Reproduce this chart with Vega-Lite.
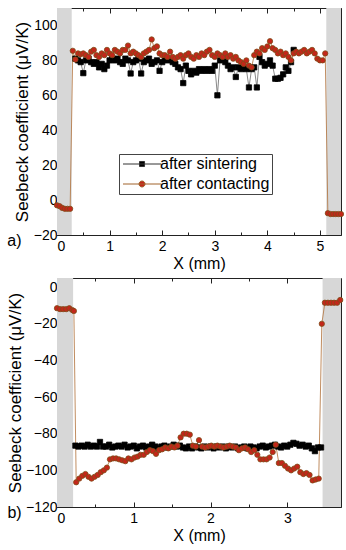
{
  "$schema": "https://vega.github.io/schema/vega-lite/v6.json",
  "background": "white",
  "padding": {"left": 5, "top": 7, "right": 8, "bottom": 5},
  "config": {
    "font": "Liberation Sans",
    "view": {"stroke": "#222", "strokeWidth": 1},
    "axis": {"labelFont": "Liberation Sans", "labelFontSize": 14, "labelColor": "#000", "titleFont": "Liberation Sans", "titleFontSize": 16, "titleFontWeight": "normal", "titleColor": "#000", "tickColor": "#222", "domain": false, "grid": false},
    "title": {"font": "Liberation Sans", "fontSize": 16, "fontWeight": "normal", "color": "#000"}
  },
  "datasets": {
    "bandsTop": [{"x0": 0, "x1": 0.28}, {"x0": 5.12, "x1": 5.4}],
    "bandsBottom": [{"x0": 0, "x1": 0.21}, {"x0": 3.46, "x1": 3.7}],
    "top": [
      {"s":"after sintering","x":0.35,"y":81},{"s":"after sintering","x":0.40,"y":80},{"s":"after sintering","x":0.45,"y":79},{"s":"after sintering","x":0.50,"y":72.7},{"s":"after sintering","x":0.55,"y":80},{"s":"after sintering","x":0.60,"y":81},{"s":"after sintering","x":0.65,"y":79},{"s":"after sintering","x":0.70,"y":78},{"s":"after sintering","x":0.75,"y":79},{"s":"after sintering","x":0.80,"y":76},{"s":"after sintering","x":0.85,"y":78},{"s":"after sintering","x":0.90,"y":75},{"s":"after sintering","x":0.95,"y":77},{"s":"after sintering","x":1.00,"y":80},{"s":"after sintering","x":1.05,"y":81},{"s":"after sintering","x":1.10,"y":80},{"s":"after sintering","x":1.15,"y":81},{"s":"after sintering","x":1.20,"y":79},{"s":"after sintering","x":1.25,"y":78},{"s":"after sintering","x":1.30,"y":81},{"s":"after sintering","x":1.35,"y":80},{"s":"after sintering","x":1.40,"y":72.5},{"s":"after sintering","x":1.45,"y":79},{"s":"after sintering","x":1.50,"y":80},{"s":"after sintering","x":1.55,"y":81},{"s":"after sintering","x":1.60,"y":72.5},{"s":"after sintering","x":1.65,"y":79},{"s":"after sintering","x":1.70,"y":80},{"s":"after sintering","x":1.75,"y":81},{"s":"after sintering","x":1.80,"y":78},{"s":"after sintering","x":1.85,"y":79},{"s":"after sintering","x":1.90,"y":80},{"s":"after sintering","x":1.95,"y":74},{"s":"after sintering","x":2.00,"y":79},{"s":"after sintering","x":2.05,"y":80},{"s":"after sintering","x":2.10,"y":81},{"s":"after sintering","x":2.15,"y":80},{"s":"after sintering","x":2.20,"y":79},{"s":"after sintering","x":2.25,"y":78},{"s":"after sintering","x":2.30,"y":76},{"s":"after sintering","x":2.35,"y":75},{"s":"after sintering","x":2.40,"y":67},{"s":"after sintering","x":2.45,"y":77},{"s":"after sintering","x":2.50,"y":74},{"s":"after sintering","x":2.55,"y":72},{"s":"after sintering","x":2.60,"y":74},{"s":"after sintering","x":2.65,"y":73},{"s":"after sintering","x":2.70,"y":75},{"s":"after sintering","x":2.75,"y":74},{"s":"after sintering","x":2.80,"y":75},{"s":"after sintering","x":2.85,"y":74},{"s":"after sintering","x":2.90,"y":75},{"s":"after sintering","x":2.95,"y":74},{"s":"after sintering","x":3.00,"y":77},{"s":"after sintering","x":3.05,"y":60},{"s":"after sintering","x":3.10,"y":80},{"s":"after sintering","x":3.15,"y":81},{"s":"after sintering","x":3.20,"y":79},{"s":"after sintering","x":3.25,"y":77},{"s":"after sintering","x":3.30,"y":75},{"s":"after sintering","x":3.35,"y":76},{"s":"after sintering","x":3.40,"y":70.5},{"s":"after sintering","x":3.45,"y":76},{"s":"after sintering","x":3.50,"y":75},{"s":"after sintering","x":3.55,"y":76},{"s":"after sintering","x":3.60,"y":75},{"s":"after sintering","x":3.65,"y":64.5},{"s":"after sintering","x":3.70,"y":75},{"s":"after sintering","x":3.75,"y":76},{"s":"after sintering","x":3.80,"y":64.5},{"s":"after sintering","x":3.85,"y":82},{"s":"after sintering","x":3.90,"y":79},{"s":"after sintering","x":3.95,"y":77},{"s":"after sintering","x":4.00,"y":78},{"s":"after sintering","x":4.05,"y":80},{"s":"after sintering","x":4.10,"y":77},{"s":"after sintering","x":4.15,"y":69.5},{"s":"after sintering","x":4.20,"y":69.5},{"s":"after sintering","x":4.25,"y":70},{"s":"after sintering","x":4.30,"y":72},{"s":"after sintering","x":4.35,"y":76},{"s":"after sintering","x":4.40,"y":74},{"s":"after sintering","x":4.45,"y":79},{"s":"after sintering","x":4.50,"y":86},
      {"s":"after contacting","x":0.00,"y":-3},{"s":"after contacting","x":0.05,"y":-3.5},{"s":"after contacting","x":0.10,"y":-4.5},{"s":"after contacting","x":0.15,"y":-5},{"s":"after contacting","x":0.20,"y":-5},{"s":"after contacting","x":0.25,"y":-5},{"s":"after contacting","x":0.30,"y":85.5},{"s":"after contacting","x":0.35,"y":80.5},{"s":"after contacting","x":0.40,"y":84},{"s":"after contacting","x":0.45,"y":83.5},{"s":"after contacting","x":0.50,"y":84},{"s":"after contacting","x":0.55,"y":83},{"s":"after contacting","x":0.60,"y":82},{"s":"after contacting","x":0.65,"y":85},{"s":"after contacting","x":0.70,"y":86},{"s":"after contacting","x":0.75,"y":83},{"s":"after contacting","x":0.80,"y":82},{"s":"after contacting","x":0.85,"y":84},{"s":"after contacting","x":0.90,"y":83},{"s":"after contacting","x":0.95,"y":86},{"s":"after contacting","x":1.00,"y":84},{"s":"after contacting","x":1.05,"y":83},{"s":"after contacting","x":1.10,"y":86},{"s":"after contacting","x":1.15,"y":85},{"s":"after contacting","x":1.20,"y":84},{"s":"after contacting","x":1.25,"y":86},{"s":"after contacting","x":1.30,"y":86},{"s":"after contacting","x":1.35,"y":88.5},{"s":"after contacting","x":1.40,"y":84},{"s":"after contacting","x":1.45,"y":85},{"s":"after contacting","x":1.50,"y":84},{"s":"after contacting","x":1.55,"y":83},{"s":"after contacting","x":1.60,"y":82},{"s":"after contacting","x":1.65,"y":84},{"s":"after contacting","x":1.70,"y":85},{"s":"after contacting","x":1.75,"y":86},{"s":"after contacting","x":1.80,"y":92},{"s":"after contacting","x":1.85,"y":87},{"s":"after contacting","x":1.90,"y":88},{"s":"after contacting","x":1.95,"y":84},{"s":"after contacting","x":2.00,"y":83},{"s":"after contacting","x":2.05,"y":83},{"s":"after contacting","x":2.10,"y":82},{"s":"after contacting","x":2.15,"y":85},{"s":"after contacting","x":2.20,"y":82},{"s":"after contacting","x":2.25,"y":81},{"s":"after contacting","x":2.30,"y":82},{"s":"after contacting","x":2.35,"y":83},{"s":"after contacting","x":2.40,"y":81},{"s":"after contacting","x":2.45,"y":83},{"s":"after contacting","x":2.50,"y":84},{"s":"after contacting","x":2.55,"y":82},{"s":"after contacting","x":2.60,"y":81},{"s":"after contacting","x":2.65,"y":83},{"s":"after contacting","x":2.70,"y":82},{"s":"after contacting","x":2.75,"y":84},{"s":"after contacting","x":2.80,"y":83},{"s":"after contacting","x":2.85,"y":85},{"s":"after contacting","x":2.90,"y":86},{"s":"after contacting","x":2.95,"y":83},{"s":"after contacting","x":3.00,"y":82},{"s":"after contacting","x":3.05,"y":84},{"s":"after contacting","x":3.10,"y":83},{"s":"after contacting","x":3.15,"y":82},{"s":"after contacting","x":3.20,"y":84},{"s":"after contacting","x":3.25,"y":82},{"s":"after contacting","x":3.30,"y":83},{"s":"after contacting","x":3.35,"y":81},{"s":"after contacting","x":3.40,"y":82},{"s":"after contacting","x":3.45,"y":80},{"s":"after contacting","x":3.50,"y":79},{"s":"after contacting","x":3.55,"y":78},{"s":"after contacting","x":3.60,"y":80},{"s":"after contacting","x":3.65,"y":77},{"s":"after contacting","x":3.70,"y":76},{"s":"after contacting","x":3.75,"y":83},{"s":"after contacting","x":3.80,"y":85},{"s":"after contacting","x":3.85,"y":84},{"s":"after contacting","x":3.90,"y":87},{"s":"after contacting","x":3.95,"y":86},{"s":"after contacting","x":4.00,"y":88},{"s":"after contacting","x":4.05,"y":91},{"s":"after contacting","x":4.10,"y":87},{"s":"after contacting","x":4.15,"y":86},{"s":"after contacting","x":4.20,"y":84},{"s":"after contacting","x":4.25,"y":85},{"s":"after contacting","x":4.30,"y":83},{"s":"after contacting","x":4.35,"y":84},{"s":"after contacting","x":4.40,"y":82},{"s":"after contacting","x":4.45,"y":80},{"s":"after contacting","x":4.50,"y":84},{"s":"after contacting","x":4.55,"y":85},{"s":"after contacting","x":4.60,"y":84},{"s":"after contacting","x":4.65,"y":85},{"s":"after contacting","x":4.70,"y":86},{"s":"after contacting","x":4.75,"y":84},{"s":"after contacting","x":4.80,"y":85},{"s":"after contacting","x":4.85,"y":86},{"s":"after contacting","x":4.90,"y":84},{"s":"after contacting","x":4.95,"y":81},{"s":"after contacting","x":5.00,"y":80},{"s":"after contacting","x":5.05,"y":80},{"s":"after contacting","x":5.10,"y":84},{"s":"after contacting","x":5.15,"y":-7.5},{"s":"after contacting","x":5.20,"y":-8},{"s":"after contacting","x":5.25,"y":-8},{"s":"after contacting","x":5.30,"y":-8},{"s":"after contacting","x":5.35,"y":-8},{"s":"after contacting","x":5.40,"y":-8}
    ],
    "bottom": [
      {"s":"after sintering","x":0.24,"y":-86.5},{"s":"after sintering","x":0.28,"y":-87},{"s":"after sintering","x":0.32,"y":-86.5},{"s":"after sintering","x":0.36,"y":-87},{"s":"after sintering","x":0.40,"y":-86},{"s":"after sintering","x":0.44,"y":-87},{"s":"after sintering","x":0.48,"y":-86.5},{"s":"after sintering","x":0.52,"y":-87},{"s":"after sintering","x":0.56,"y":-84.5},{"s":"after sintering","x":0.60,"y":-87},{"s":"after sintering","x":0.64,"y":-87},{"s":"after sintering","x":0.68,"y":-86},{"s":"after sintering","x":0.72,"y":-87.5},{"s":"after sintering","x":0.76,"y":-87},{"s":"after sintering","x":0.80,"y":-86.5},{"s":"after sintering","x":0.84,"y":-87},{"s":"after sintering","x":0.88,"y":-86},{"s":"after sintering","x":0.92,"y":-87.5},{"s":"after sintering","x":0.96,"y":-87},{"s":"after sintering","x":1.00,"y":-86.5},{"s":"after sintering","x":1.04,"y":-88},{"s":"after sintering","x":1.08,"y":-87},{"s":"after sintering","x":1.12,"y":-86.5},{"s":"after sintering","x":1.16,"y":-87.5},{"s":"after sintering","x":1.20,"y":-87},{"s":"after sintering","x":1.24,"y":-86},{"s":"after sintering","x":1.28,"y":-87},{"s":"after sintering","x":1.32,"y":-88},{"s":"after sintering","x":1.36,"y":-87},{"s":"after sintering","x":1.40,"y":-86.5},{"s":"after sintering","x":1.44,"y":-87.5},{"s":"after sintering","x":1.48,"y":-87},{"s":"after sintering","x":1.52,"y":-86},{"s":"after sintering","x":1.56,"y":-87},{"s":"after sintering","x":1.60,"y":-86.5},{"s":"after sintering","x":1.64,"y":-87.5},{"s":"after sintering","x":1.68,"y":-88},{"s":"after sintering","x":1.72,"y":-87},{"s":"after sintering","x":1.76,"y":-88},{"s":"after sintering","x":1.80,"y":-87},{"s":"after sintering","x":1.84,"y":-87.5},{"s":"after sintering","x":1.88,"y":-88},{"s":"after sintering","x":1.92,"y":-87},{"s":"after sintering","x":1.96,"y":-87.5},{"s":"after sintering","x":2.00,"y":-87},{"s":"after sintering","x":2.04,"y":-88},{"s":"after sintering","x":2.08,"y":-87},{"s":"after sintering","x":2.12,"y":-87.5},{"s":"after sintering","x":2.16,"y":-87},{"s":"after sintering","x":2.20,"y":-88},{"s":"after sintering","x":2.24,"y":-87},{"s":"after sintering","x":2.28,"y":-87.5},{"s":"after sintering","x":2.32,"y":-87},{"s":"after sintering","x":2.36,"y":-88},{"s":"after sintering","x":2.40,"y":-87.5},{"s":"after sintering","x":2.44,"y":-87},{"s":"after sintering","x":2.48,"y":-88},{"s":"after sintering","x":2.52,"y":-87},{"s":"after sintering","x":2.56,"y":-87.5},{"s":"after sintering","x":2.60,"y":-88},{"s":"after sintering","x":2.64,"y":-87},{"s":"after sintering","x":2.68,"y":-86.5},{"s":"after sintering","x":2.72,"y":-87.5},{"s":"after sintering","x":2.76,"y":-87},{"s":"after sintering","x":2.80,"y":-86.5},{"s":"after sintering","x":2.84,"y":-86},{"s":"after sintering","x":2.88,"y":-87},{"s":"after sintering","x":2.92,"y":-87.5},{"s":"after sintering","x":2.96,"y":-86.5},{"s":"after sintering","x":3.00,"y":-87},{"s":"after sintering","x":3.04,"y":-86},{"s":"after sintering","x":3.08,"y":-85},{"s":"after sintering","x":3.12,"y":-85.5},{"s":"after sintering","x":3.16,"y":-86.5},{"s":"after sintering","x":3.20,"y":-86},{"s":"after sintering","x":3.24,"y":-87},{"s":"after sintering","x":3.28,"y":-86.5},{"s":"after sintering","x":3.32,"y":-88},{"s":"after sintering","x":3.36,"y":-89.5},{"s":"after sintering","x":3.40,"y":-87.5},{"s":"after sintering","x":3.44,"y":-87.5},
      {"s":"after contacting","x":0.00,"y":-11.5},{"s":"after contacting","x":0.04,"y":-12},{"s":"after contacting","x":0.08,"y":-12},{"s":"after contacting","x":0.12,"y":-12},{"s":"after contacting","x":0.16,"y":-11.5},{"s":"after contacting","x":0.20,"y":-12.5},{"s":"after contacting","x":0.22,"y":-13},{"s":"after contacting","x":0.25,"y":-106.5},{"s":"after contacting","x":0.29,"y":-104.5},{"s":"after contacting","x":0.33,"y":-103},{"s":"after contacting","x":0.37,"y":-102},{"s":"after contacting","x":0.41,"y":-103.5},{"s":"after contacting","x":0.45,"y":-104.5},{"s":"after contacting","x":0.49,"y":-103.5},{"s":"after contacting","x":0.53,"y":-102.5},{"s":"after contacting","x":0.57,"y":-101},{"s":"after contacting","x":0.61,"y":-100},{"s":"after contacting","x":0.65,"y":-98.5},{"s":"after contacting","x":0.69,"y":-94},{"s":"after contacting","x":0.73,"y":-93.5},{"s":"after contacting","x":0.77,"y":-93.5},{"s":"after contacting","x":0.81,"y":-94},{"s":"after contacting","x":0.85,"y":-94.5},{"s":"after contacting","x":0.89,"y":-95},{"s":"after contacting","x":0.93,"y":-93.5},{"s":"after contacting","x":0.97,"y":-94},{"s":"after contacting","x":1.01,"y":-93},{"s":"after contacting","x":1.05,"y":-92.5},{"s":"after contacting","x":1.09,"y":-91.5},{"s":"after contacting","x":1.13,"y":-91.5},{"s":"after contacting","x":1.17,"y":-90},{"s":"after contacting","x":1.21,"y":-89},{"s":"after contacting","x":1.25,"y":-89.5},{"s":"after contacting","x":1.29,"y":-91},{"s":"after contacting","x":1.33,"y":-89},{"s":"after contacting","x":1.37,"y":-88.5},{"s":"after contacting","x":1.41,"y":-87.5},{"s":"after contacting","x":1.45,"y":-88},{"s":"after contacting","x":1.49,"y":-87},{"s":"after contacting","x":1.53,"y":-87.5},{"s":"after contacting","x":1.57,"y":-86.5},{"s":"after contacting","x":1.61,"y":-82},{"s":"after contacting","x":1.65,"y":-80},{"s":"after contacting","x":1.69,"y":-80},{"s":"after contacting","x":1.73,"y":-80.5},{"s":"after contacting","x":1.77,"y":-86.5},{"s":"after contacting","x":1.81,"y":-87},{"s":"after contacting","x":1.85,"y":-83.5},{"s":"after contacting","x":1.89,"y":-87},{"s":"after contacting","x":1.93,"y":-87.5},{"s":"after contacting","x":1.97,"y":-87},{"s":"after contacting","x":2.01,"y":-86.5},{"s":"after contacting","x":2.05,"y":-87},{"s":"after contacting","x":2.09,"y":-86.5},{"s":"after contacting","x":2.13,"y":-87},{"s":"after contacting","x":2.17,"y":-87.5},{"s":"after contacting","x":2.21,"y":-87},{"s":"after contacting","x":2.25,"y":-86.5},{"s":"after contacting","x":2.29,"y":-87},{"s":"after contacting","x":2.33,"y":-87.5},{"s":"after contacting","x":2.37,"y":-89},{"s":"after contacting","x":2.41,"y":-88},{"s":"after contacting","x":2.45,"y":-87.5},{"s":"after contacting","x":2.49,"y":-88.5},{"s":"after contacting","x":2.53,"y":-90},{"s":"after contacting","x":2.57,"y":-89},{"s":"after contacting","x":2.61,"y":-91.5},{"s":"after contacting","x":2.65,"y":-94},{"s":"after contacting","x":2.69,"y":-94},{"s":"after contacting","x":2.73,"y":-94},{"s":"after contacting","x":2.77,"y":-93},{"s":"after contacting","x":2.81,"y":-90},{"s":"after contacting","x":2.85,"y":-86},{"s":"after contacting","x":2.89,"y":-96},{"s":"after contacting","x":2.93,"y":-96},{"s":"after contacting","x":2.97,"y":-97.5},{"s":"after contacting","x":3.01,"y":-99},{"s":"after contacting","x":3.05,"y":-100},{"s":"after contacting","x":3.09,"y":-99},{"s":"after contacting","x":3.13,"y":-98},{"s":"after contacting","x":3.17,"y":-101},{"s":"after contacting","x":3.21,"y":-102},{"s":"after contacting","x":3.25,"y":-101.5},{"s":"after contacting","x":3.29,"y":-102.5},{"s":"after contacting","x":3.33,"y":-105.5},{"s":"after contacting","x":3.37,"y":-105},{"s":"after contacting","x":3.41,"y":-104.5},{"s":"after contacting","x":3.45,"y":-20},{"s":"after contacting","x":3.49,"y":-8.5},{"s":"after contacting","x":3.53,"y":-8.5},{"s":"after contacting","x":3.57,"y":-8.5},{"s":"after contacting","x":3.61,"y":-8.5},{"s":"after contacting","x":3.65,"y":-8.5},{"s":"after contacting","x":3.69,"y":-7}
    ]
  },
  "vconcat": [
    {
      "width": 284,
      "height": 227,
      "title": {"text": "a)", "orient": "bottom", "anchor": "start", "frame": "bounds", "offset": -38, "dx": -6},
      "resolve": {"axis": {"x": "independent", "y": "independent"}, "scale": {"shape": "independent", "fill": "independent", "stroke": "independent"}},
      "layer": [
        {
          "data": {"name": "bandsTop"},
          "mark": {"type": "rect", "color": "#d7d7d7"},
          "encoding": {
            "x": {"field": "x0", "type": "quantitative", "scale": {"domain": [0, 5.4], "nice": false}, "axis": {"orient": "bottom", "values": [0, 1, 2, 3, 4, 5], "tickSize": -5, "labelPadding": 9, "title": "X (mm)", "titlePadding": 2}},
            "x2": {"field": "x1"},
            "y": {"datum": -20, "type": "quantitative", "scale": {"domain": [-20, 110], "nice": false}, "axis": {"orient": "left", "values": [-10, 10, 30, 50, 70, 90, 110], "tickSize": -3, "labels": false, "title": null}},
            "y2": {"datum": 110}
          }
        },
        {
          "data": {"name": "top"},
          "transform": [{"filter": "datum.s === 'after sintering'"}],
          "mark": {"type": "line", "color": "#555", "strokeWidth": 0.7},
          "encoding": {
            "x": {"field": "x", "type": "quantitative", "scale": {"domain": [0, 5.4], "nice": false}, "axis": {"orient": "top", "values": [0, 1, 2, 3, 4, 5], "tickSize": -5, "labels": false, "title": null}},
            "y": {"field": "y", "type": "quantitative", "scale": {"domain": [-20, 110], "nice": false}, "axis": {"orient": "left", "values": [-20, 0, 20, 40, 60, 80, 100], "tickSize": -5, "labelPadding": 5, "title": "Seebeck coefficient (μV/K)", "titleFontSize": 17, "titlePadding": 2}}
          }
        },
        {
          "data": {"name": "top"},
          "transform": [{"filter": "datum.s === 'after contacting'"}],
          "mark": {"type": "line", "color": "#b07038", "strokeWidth": 0.8},
          "encoding": {
            "x": {"field": "x", "type": "quantitative", "scale": {"domain": [0, 5.4], "nice": false}, "axis": {"orient": "top", "values": [0.5, 1.5, 2.5, 3.5, 4.5], "tickSize": -3, "labels": false, "title": null}},
            "y": {"field": "y", "type": "quantitative", "scale": {"domain": [-20, 110], "nice": false}, "axis": {"orient": "right", "values": [-20, 0, 20, 40, 60, 80, 100], "tickSize": -5, "labels": false, "title": null}}
          }
        },
        {
          "data": {"name": "top"},
          "mark": {"type": "point", "filled": true, "opacity": 1, "strokeWidth": 0.8},
          "encoding": {
            "x": {"field": "x", "type": "quantitative", "scale": {"domain": [0, 5.4], "nice": false}, "axis": {"orient": "bottom", "values": [0.5, 1.5, 2.5, 3.5, 4.5], "tickSize": -3, "labels": false, "title": null}},
            "y": {"field": "y", "type": "quantitative", "scale": {"domain": [-20, 110], "nice": false}, "axis": {"orient": "right", "values": [-10, 10, 30, 50, 70, 90, 110], "tickSize": -3, "labels": false, "title": null}},
            "fill": {"field": "s", "type": "nominal", "scale": {"domain": ["after sintering", "after contacting"], "range": ["#000000", "#c4261a"]}, "legend": null},
            "stroke": {"field": "s", "type": "nominal", "scale": {"domain": ["after sintering", "after contacting"], "range": ["#000000", "#7e4d18"]}, "legend": null},
            "size": {"value": 28},
            "shape": {"field": "s", "type": "nominal", "scale": {"domain": ["after sintering", "after contacting"], "range": ["square", "circle"]}, "legend": null}
          }
        },
        {
          "data": {"name": "top"},
          "mark": {"type": "point", "filled": true, "opacity": 0, "strokeWidth": 1},
          "encoding": {
            "x": {"field": "x", "type": "quantitative", "axis": null},
            "y": {"field": "y", "type": "quantitative", "axis": null},
            "size": {"value": 144},
            "fill": {"field": "s", "type": "nominal", "scale": {"domain": ["after sintering", "after contacting"], "range": ["#000000", "#c4261a"]}},
            "stroke": {"field": "s", "type": "nominal", "scale": {"domain": ["after sintering", "after contacting"], "range": ["#333333", "#a0622a"]}},
            "shape": {"field": "s", "type": "nominal", "scale": {"domain": ["after sintering", "after contacting"], "range": ["M-1,0H5.33M1.75,-0.42H2.59V0.42H1.75Z", "M-1,0H5.33M1.67,0A0.5,0.5 0 1,0 2.67,0A0.5,0.5 0 1,0 1.67,0Z"]},
              "legend": {"title": null, "orient": "none", "legendX": 62, "legendY": 146, "strokeColor": "#444", "padding": 2, "labelFont": "Liberation Sans", "labelFontSize": 16, "labelColor": "#000", "labelOffset": 23, "rowPadding": 4, "symbolSize": 144, "symbolOpacity": 1, "symbolStrokeWidth": 1,
                "encode": {"legend": {"update": {"stroke": {"value": "#444"}, "strokeWidth": {"value": 1}}}}}
            }
          }
        }
      ]
    },
    {
      "width": 284,
      "height": 229,
      "title": {"text": "b)", "orient": "bottom", "anchor": "start", "frame": "bounds", "offset": -38, "dx": 1},
      "resolve": {"axis": {"x": "independent", "y": "independent"}},
      "layer": [
        {
          "data": {"name": "bandsBottom"},
          "mark": {"type": "rect", "color": "#d7d7d7"},
          "encoding": {
            "x": {"field": "x0", "type": "quantitative", "scale": {"domain": [0, 3.7], "nice": false}, "axis": {"orient": "bottom", "values": [0, 1, 2, 3], "tickSize": -5, "labelPadding": 9, "title": "X (mm)", "titlePadding": 2}},
            "x2": {"field": "x1"},
            "y": {"datum": -120, "type": "quantitative", "scale": {"domain": [-120, 5], "nice": false}, "axis": {"orient": "left", "values": [-110, -90, -70, -50, -30, -10], "tickSize": -3, "labels": false, "title": null}},
            "y2": {"datum": 5}
          }
        },
        {
          "data": {"name": "bottom"},
          "transform": [{"filter": "datum.s === 'after sintering'"}],
          "mark": {"type": "line", "color": "#555", "strokeWidth": 0.7},
          "encoding": {
            "x": {"field": "x", "type": "quantitative", "scale": {"domain": [0, 3.7], "nice": false}, "axis": {"orient": "top", "values": [0, 1, 2, 3], "tickSize": -5, "labels": false, "title": null}},
            "y": {"field": "y", "type": "quantitative", "scale": {"domain": [-120, 5], "nice": false}, "axis": {"orient": "left", "values": [-120, -100, -80, -60, -40, -20, 0], "tickSize": -5, "labelPadding": 5, "title": "Seebeck coefficient (μV/K)", "titleFontSize": 17, "titlePadding": 1}}
          }
        },
        {
          "data": {"name": "bottom"},
          "transform": [{"filter": "datum.s === 'after contacting'"}],
          "mark": {"type": "line", "color": "#b07038", "strokeWidth": 0.8},
          "encoding": {
            "x": {"field": "x", "type": "quantitative", "scale": {"domain": [0, 3.7], "nice": false}, "axis": {"orient": "top", "values": [0.5, 1.5, 2.5, 3.5], "tickSize": -3, "labels": false, "title": null}},
            "y": {"field": "y", "type": "quantitative", "scale": {"domain": [-120, 5], "nice": false}, "axis": {"orient": "right", "values": [-120, -100, -80, -60, -40, -20, 0], "tickSize": -5, "labels": false, "title": null}}
          }
        },
        {
          "data": {"name": "bottom"},
          "mark": {"type": "point", "filled": true, "opacity": 1, "strokeWidth": 0.8},
          "encoding": {
            "x": {"field": "x", "type": "quantitative", "scale": {"domain": [0, 3.7], "nice": false}, "axis": {"orient": "bottom", "values": [0.5, 1.5, 2.5, 3.5], "tickSize": -3, "labels": false, "title": null}},
            "y": {"field": "y", "type": "quantitative", "scale": {"domain": [-120, 5], "nice": false}, "axis": {"orient": "right", "values": [-110, -90, -70, -50, -30, -10], "tickSize": -3, "labels": false, "title": null}},
            "fill": {"field": "s", "type": "nominal", "scale": {"domain": ["after sintering", "after contacting"], "range": ["#000000", "#c4261a"]}, "legend": null},
            "stroke": {"field": "s", "type": "nominal", "scale": {"domain": ["after sintering", "after contacting"], "range": ["#000000", "#7e4d18"]}, "legend": null},
            "size": {"value": 28},
            "shape": {"field": "s", "type": "nominal", "scale": {"domain": ["after sintering", "after contacting"], "range": ["square", "circle"]}, "legend": null}
          }
        }
      ]
    }
  ],
  "spacing": 43,
  "bounds": "flush",
  "resolve": {"scale": {"fill": "independent", "stroke": "independent", "shape": "independent"}}
}
